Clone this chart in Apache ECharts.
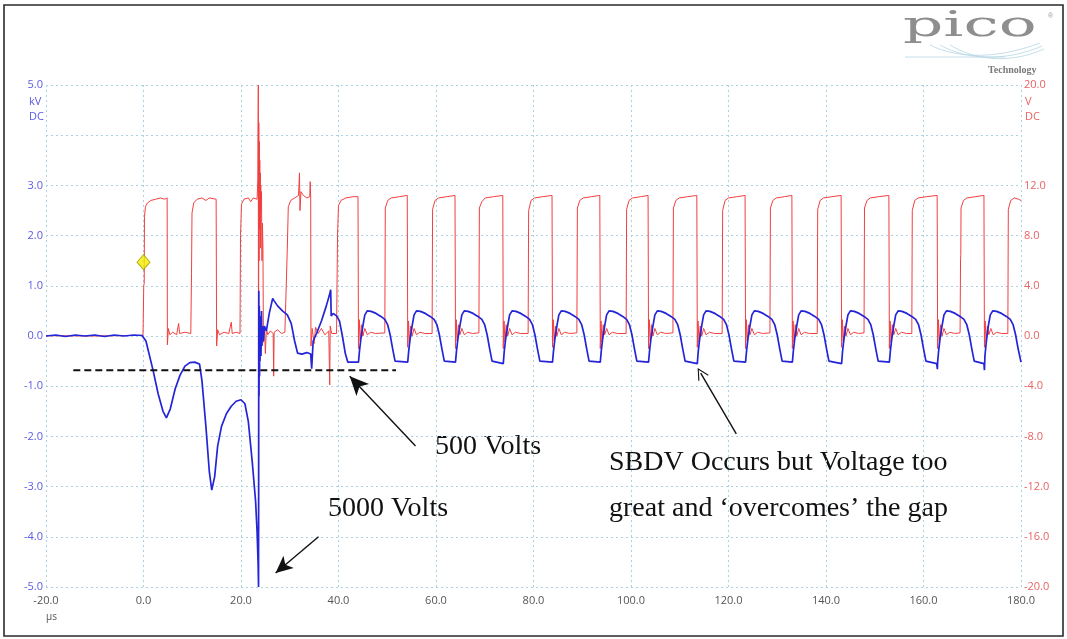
<!DOCTYPE html>
<html><head><meta charset="utf-8">
<script src="https://cdn.jsdelivr.net/npm/echarts/dist/echarts.min.js"></script>
<style>html,body{margin:0;padding:0;background:#fff}#c{width:1067px;height:639px}</style>
</head><body><div id="c"></div>
<script>
// ---- tick labels ----
const xTickLabels = ['-20.0','0.0','20.0','40.0','60.0','80.0','100.0','120.0','140.0','160.0','180.0'];
const kvTickLabels = ['-5.0','-4.0','-3.0','-2.0','-1.0','0.0','1.0','2.0','3.0','',"5.0"];
const vTickLabels = ['-20.0','-16.0','-12.0','-8.0','-4.0','0.0','4.0','8.0','12.0','','20.0'];

// ---- red channel (V, right axis) ----
const redTrace = [
 [-20,0.02],[-10,0.0],[-0.1,0.05],
 [0,0.1],[0.05,4.0],[0.15,4.2],[0.2,9.5],[0.4,10.3],[0.8,10.6],[1.5,10.8],[2.5,10.9],[3.5,11.0],[4.3,10.9],[4.85,11.0],
 [4.9,-0.7],[5.1,0.6],[5.4,0.1],[6.0,0.3],[6.8,0.1],[7.2,1.0],[7.4,0.2],[8.5,0.3],[9.7,0.2],
 [9.85,5.0],[9.95,9.8],[10.3,10.6],[11.0,10.9],[12.0,11.0],[12.8,10.8],[13.5,11.0],[14.9,10.9],
 [15.0,-0.8],[15.2,0.5],[15.6,0.1],[16.5,0.3],[17.5,0.2],[18.0,1.1],[18.2,0.2],[19.0,0.3],[19.8,0.2],
 [19.9,8.0],[20.1,10.5],[20.6,10.9],[21.5,11.0],[22.0,10.7],[22.5,11.0],[23.3,10.9],
 [23.45,12.5],[23.55,20],[23.6,-15.5],[23.65,17],[23.7,6],[23.75,15.5],[23.8,8.5],[23.85,14],[23.9,9],[23.95,13],[24.0,7],[24.05,12],[24.1,10],[24.2,11.5],[24.3,6],[24.4,9],[24.5,7],
 [24.6,-0.5],[24.8,0.8],[25.0,-1.4],[25.2,0.6],[25.5,0.1],[26.0,0.4],[26.6,0.2],[26.7,-3.2],[26.8,0.3],[27.5,0.5],[28.3,0.2],[29.0,0.3],[29.4,0.2],
 [29.5,7.0],[29.7,10.3],[30.2,10.8],[31.0,11.0],[31.8,11.2],[32.0,13.0],[32.1,10.0],[32.3,11.5],[32.8,11.2],[33.5,11.0],[34.1,11.1],[34.2,12.3],[34.3,11.0],
 [34.35,-0.8],[34.6,0.6],[35.0,-0.6],[35.3,0.7],[35.8,0.2],[36.5,0.6],[37.2,0.1],[38.0,0.4],[38.2,-3.9],[38.3,0.8],[38.6,0.2],[39.6,0.2],
 [39.8,8.0],[40.0,10.4],[40.5,10.8],[41.5,11.0],[43.0,11.1],[44.0,11.1],
 [44.1,-1.0],[44.25,1.3],[44.45,-0.4],[44.7,0.9],[45.0,0.0],[45.4,0.6],[45.9,0.1],[46.6,0.3],[47.6,0.2],[49.5,0.25],
 [49.6,10.2],[50.1,10.8],[50.8,11.0],[52.5,11.1],[54.1,11.2],
 [54.2,-0.9],[54.35,1.2],[54.55,-0.5],[54.8,0.8],[55.1,0.0],[55.5,0.6],[56.0,0.1],[56.7,0.3],[57.7,0.2],[59.2,0.2],
 [59.3,10.1],[59.8,10.8],[60.5,11.0],[62.2,11.1],[63.9,11.2],
 [64.0,-1.0],[64.15,1.3],[64.35,-0.4],[64.6,0.9],[64.9,0.1],[65.3,0.6],[65.8,0.1],[66.5,0.3],[67.5,0.2],[68.8,0.25],
 [68.9,10.2],[69.4,10.7],[70.1,11.0],[71.8,11.1],[73.7,11.2],
 [73.8,-1.0],[73.95,1.2],[74.15,-0.5],[74.4,0.9],[74.7,0.0],[75.1,0.6],[75.6,0.1],[76.3,0.3],[77.3,0.2],[78.9,0.2],
 [79.0,10.0],[79.5,10.8],[80.2,11.0],[81.9,11.1],[83.8,11.2],
 [83.9,-0.9],[84.05,1.3],[84.25,-0.4],[84.5,0.8],[84.8,0.0],[85.2,0.6],[85.7,0.1],[86.4,0.3],[87.4,0.2],[88.9,0.25],
 [89.0,10.2],[89.5,10.8],[90.2,11.0],[91.9,11.1],[93.6,11.2],
 [93.7,-1.0],[93.85,1.2],[94.05,-0.5],[94.3,0.9],[94.6,0.1],[95.0,0.6],[95.5,0.1],[96.2,0.3],[97.2,0.2],[99.0,0.2],
 [99.1,10.1],[99.6,10.8],[100.3,11.0],[102.0,11.1],[103.5,11.2],
 [103.6,-1.0],[103.75,1.3],[103.95,-0.4],[104.2,0.9],[104.5,0.0],[104.9,0.6],[105.4,0.1],[106.1,0.3],[107.1,0.2],[108.6,0.25],
 [108.7,10.2],[109.2,10.8],[109.9,11.0],[111.6,11.1],[113.5,11.2],
 [113.6,-0.9],[113.75,1.2],[113.95,-0.5],[114.2,0.8],[114.5,0.0],[114.9,0.6],[115.4,0.1],[116.1,0.3],[117.1,0.2],[118.7,0.2],
 [118.8,10.0],[119.3,10.8],[120.0,11.0],[121.7,11.1],[123.4,11.2],
 [123.5,-1.0],[123.65,1.3],[123.85,-0.4],[124.1,0.9],[124.4,0.1],[124.8,0.6],[125.3,0.1],[126.0,0.3],[127.0,0.2],[128.5,0.25],
 [128.6,10.2],[129.1,10.8],[129.8,11.0],[131.5,11.1],[133.0,11.2],
 [133.1,-1.0],[133.25,1.2],[133.45,-0.5],[133.7,0.9],[134.0,0.0],[134.4,0.6],[134.9,0.1],[135.6,0.3],[136.6,0.2],[138.2,0.2],
 [138.3,10.1],[138.8,10.8],[139.5,11.0],[141.2,11.1],[143.1,11.2],
 [143.2,-0.9],[143.35,1.3],[143.55,-0.4],[143.8,0.8],[144.1,0.0],[144.5,0.6],[145.0,0.1],[145.7,0.3],[146.7,0.2],[147.8,0.25],
 [147.9,10.2],[148.4,10.8],[149.1,11.0],[150.8,11.1],[152.9,11.2],
 [153.0,-1.0],[153.15,1.2],[153.35,-0.5],[153.6,0.9],[153.9,0.1],[154.3,0.6],[154.8,0.1],[155.5,0.3],[156.5,0.2],[157.6,0.2],
 [157.7,10.0],[158.2,10.8],[158.9,11.0],[160.6,11.1],[162.8,11.2],
 [162.9,-1.0],[163.05,1.3],[163.25,-0.4],[163.5,0.9],[163.8,0.0],[164.2,0.6],[164.7,0.1],[165.4,0.3],[166.4,0.2],[167.5,0.25],
 [167.6,6.2],[167.65,6.4],[167.7,10.2],[168.2,10.8],[168.9,11.0],[170.6,11.1],[172.4,11.2],
 [172.5,-0.9],[172.65,1.2],[172.85,-0.5],[173.1,0.8],[173.4,0.1],[173.8,0.6],[174.3,0.1],[175.0,0.3],[176.0,0.2],[177.3,0.2],
 [177.4,10.1],[177.9,10.8],[178.6,11.0],[179.5,10.9],[180,10.8]
];

// ---- blue channel (kV, left axis) ----
const blueTrace = [
 [-20,0.0],[-18,0.02],[-16,-0.01],[-14,0.02],[-12,0.0],[-10,0.02],[-8,-0.01],[-6,0.02],[-4,0.0],[-2,0.02],[-0.3,0.01],
 [0,0.0],[0.5,-0.1],[1.0,-0.3],[2.0,-0.7],[3.0,-1.15],[4.0,-1.5],[4.7,-1.63],[5.5,-1.45],[6.5,-1.05],[7.5,-0.78],[8.5,-0.6],[9.5,-0.53],[10.5,-0.52],[11.5,-0.56],
 [12.0,-0.9],[12.8,-1.8],[13.5,-2.7],[14.0,-3.07],[14.6,-2.8],[15.2,-2.2],[16.0,-1.8],[17.0,-1.55],[18.0,-1.4],[19.0,-1.3],[20.0,-1.27],[20.8,-1.35],[21.5,-1.7],[22.3,-2.5],[23.0,-3.3],[23.3,-3.9],[23.5,-4.5],
 [23.6,-5.0],[23.65,0.9],[23.7,-1.2],[23.75,0.6],[23.8,-0.8],[23.85,0.4],[23.9,-0.5],[24.0,0.3],[24.1,-0.4],[24.2,0.5],[24.3,-0.2],[24.4,0.2],[24.6,-0.1],[24.8,0.2],[25.2,0.1],
 [25.8,0.45],[26.5,0.75],[26.8,0.7],[27.5,0.6],[28.5,0.5],[29.5,0.42],[30.3,0.25],[31.0,-0.1],[31.6,-0.34],[32.5,-0.36],[33.5,-0.33],[34.3,-0.36],[34.5,-0.65],
 [34.8,-0.1],[35.5,0.05],[36.5,0.3],[37.5,0.6],[38.1,0.8],[38.4,0.92],[38.5,0.4],[38.9,0.45],[39.6,0.4],[40.2,0.3],[40.8,0.0],[41.4,-0.35],[41.9,-0.52],
 [44.1,-0.52],[44.3,-0.3],[44.6,-0.05],[45.0,0.2],[45.4,0.42],[45.9,0.5],[46.7,0.49],[47.7,0.45],[48.7,0.39],[49.5,0.33],[50.1,0.22],[50.6,0.02],[51.1,-0.25],[51.6,-0.5],[51.8,-0.52],
 [54.2,-0.52],[54.4,-0.3],[54.7,-0.05],[55.1,0.2],[55.5,0.42],[56.0,0.5],[56.8,0.49],[57.8,0.45],[58.8,0.39],[59.6,0.33],[60.2,0.22],[60.7,0.02],[61.2,-0.25],[61.7,-0.5],[61.9,-0.52],
 [64.0,-0.52],[64.2,-0.3],[64.5,-0.05],[64.9,0.2],[65.3,0.42],[65.8,0.5],[66.6,0.49],[67.6,0.45],[68.6,0.39],[69.4,0.33],[70.0,0.22],[70.5,0.02],[71.0,-0.25],[71.5,-0.5],[71.7,-0.52],
 [73.8,-0.55],[74.0,-0.3],[74.3,-0.05],[74.7,0.2],[75.1,0.42],[75.6,0.5],[76.4,0.49],[77.4,0.45],[78.4,0.39],[79.2,0.33],[79.8,0.22],[80.3,0.02],[80.8,-0.25],[81.3,-0.5],[81.5,-0.52],
 [83.9,-0.52],[84.1,-0.3],[84.4,-0.05],[84.8,0.2],[85.2,0.42],[85.7,0.5],[86.5,0.49],[87.5,0.45],[88.5,0.39],[89.3,0.33],[89.9,0.22],[90.4,0.02],[90.9,-0.25],[91.4,-0.5],[91.6,-0.52],
 [93.7,-0.52],[93.9,-0.3],[94.2,-0.05],[94.6,0.2],[95.0,0.42],[95.5,0.5],[96.3,0.49],[97.3,0.45],[98.3,0.39],[99.1,0.33],[99.7,0.22],[100.2,0.02],[100.7,-0.25],[101.2,-0.5],[101.4,-0.52],
 [103.6,-0.52],[103.8,-0.3],[104.1,-0.05],[104.5,0.2],[104.9,0.42],[105.4,0.5],[106.2,0.49],[107.2,0.45],[108.2,0.39],[109.0,0.33],[109.6,0.22],[110.1,0.02],[110.6,-0.25],[111.1,-0.5],[111.3,-0.52],
 [113.6,-0.55],[113.8,-0.3],[114.1,-0.05],[114.5,0.2],[114.9,0.42],[115.4,0.5],[116.2,0.49],[117.2,0.45],[118.2,0.39],[119.0,0.33],[119.6,0.22],[120.1,0.02],[120.6,-0.25],[121.1,-0.5],[121.3,-0.52],
 [123.5,-0.52],[123.7,-0.3],[124.0,-0.05],[124.4,0.2],[124.8,0.42],[125.3,0.5],[126.1,0.49],[127.1,0.45],[128.1,0.39],[128.9,0.33],[129.5,0.22],[130.0,0.02],[130.5,-0.25],[131.0,-0.5],[131.2,-0.52],
 [133.1,-0.52],[133.3,-0.3],[133.6,-0.05],[134.0,0.2],[134.4,0.42],[134.9,0.5],[135.7,0.49],[136.7,0.45],[137.7,0.39],[138.5,0.33],[139.1,0.22],[139.6,0.02],[140.1,-0.25],[140.6,-0.5],[140.8,-0.52],
 [143.2,-0.55],[143.4,-0.3],[143.7,-0.05],[144.1,0.2],[144.5,0.42],[145.0,0.5],[145.8,0.49],[146.8,0.45],[147.8,0.39],[148.6,0.33],[149.2,0.22],[149.7,0.02],[150.2,-0.25],[150.7,-0.5],[150.9,-0.52],
 [153.0,-0.52],[153.2,-0.3],[153.5,-0.05],[153.9,0.2],[154.3,0.42],[154.8,0.5],[155.6,0.49],[156.6,0.45],[157.6,0.39],[158.4,0.33],[159.0,0.22],[159.5,0.02],[160.0,-0.25],[160.5,-0.5],[160.7,-0.52],[162.7,-0.55],
 [162.85,-0.66],[162.9,-0.52],[163.1,-0.3],[163.4,-0.05],[163.8,0.2],[164.2,0.42],[164.7,0.5],[165.5,0.49],[166.5,0.45],[167.5,0.39],[168.3,0.33],[168.9,0.22],[169.4,0.02],[169.9,-0.25],[170.4,-0.5],[170.6,-0.52],[172.4,-0.55],
 [172.5,-0.68],[172.6,-0.4],[172.9,-0.1],[173.3,0.2],[173.7,0.42],[174.2,0.5],[175.0,0.49],[176.0,0.45],[177.0,0.39],[177.8,0.33],[178.4,0.22],[178.9,0.02],[179.4,-0.25],[180.0,-0.52]
];

// ---- annotations (data coords: µs, kV) ----
const dashedLevel = [[-14.4,-0.68],[51.8,-0.68]];
const triggerPoint = [[0,1.47]];
const arrow500 = [[55.8,-2.19],[42.3,-0.80]];
const arrow5000 = [[35.9,-4.0],[27.1,-4.72]];
const arrowSBDV = [[121.6,-1.95],[114.3,-0.74]];

const gridColor = '#a9d3e2';
const chart = echarts.init(document.getElementById('c'), null, {renderer:'canvas'});
const serif = '"Liberation Serif","Times New Roman",serif';
const openArrow = 'path://M0,0 L-6,11 L-5,11.6 L0,2.2 L5,11.6 L6,11 Z';

chart.setOption({
  animation:false,
  backgroundColor:'#ffffff',
  grid:{left:46,right:46,top:85,bottom:52,show:false},
  xAxis:{type:'value',min:-20,max:180,interval:20,
    axisLine:{show:false},axisTick:{show:false},
    axisLabel:{margin:8,color:'#555',fontSize:11,fontFamily:'"Open Sans",sans-serif',
      formatter:(v)=>xTickLabels[Math.round((v+20)/20)]},
    splitLine:{show:true,lineStyle:{color:gridColor,width:1,type:[2,3]}}},
  yAxis:[
    {type:'value',min:-5,max:5,interval:1,position:'left',
      axisLine:{show:false},axisTick:{show:false},
      axisLabel:{margin:3,color:'#5b5be0',fontSize:11,fontFamily:'"Open Sans",sans-serif',
        formatter:(v)=>kvTickLabels[Math.round(v+5)]},
      splitLine:{show:true,lineStyle:{color:gridColor,width:1,type:[2,3]}}},
    {type:'value',min:-20,max:20,interval:4,position:'right',
      axisLine:{show:false},axisTick:{show:false},
      axisLabel:{margin:3,color:'#e56464',fontSize:11,fontFamily:'"Open Sans",sans-serif',
        formatter:(v)=>vTickLabels[Math.round((v+20)/4)]},
      splitLine:{show:false}}
  ],
  series:[
    {name:'red',type:'line',yAxisIndex:1,data:redTrace,showSymbol:false,symbol:'none',
     lineStyle:{color:'#f04040',width:1},z:2},
    {name:'blue',type:'line',yAxisIndex:0,data:blueTrace,showSymbol:false,symbol:'none',
     lineStyle:{color:'#2424d8',width:1.7},z:3},
    {name:'dash',type:'line',yAxisIndex:0,data:dashedLevel,showSymbol:false,symbol:'none',
     lineStyle:{color:'#111',width:2,type:[7,4]},z:4,
     markLine:{silent:true,animation:false,label:{show:false},
       lineStyle:{color:'#111',width:1.4,type:'solid'},
       data:[
         [{coord:arrow500[0],symbol:'none'},{coord:arrow500[1],symbol:'arrow',symbolSize:[13,19]}],
         [{coord:arrow5000[0],symbol:'none'},{coord:arrow5000[1],symbol:'arrow',symbolSize:[12,17]}],
         [{coord:arrowSBDV[0],symbol:'none'},{coord:arrowSBDV[1],symbol:openArrow,symbolSize:[12,12]}]
       ]}},
    {name:'trigger',type:'scatter',yAxisIndex:0,data:triggerPoint,symbol:'diamond',symbolSize:[13,15],
     itemStyle:{color:'#f4ee00',borderColor:'#a4a000',borderWidth:1},z:5}
  ],
  graphic:[
    {type:'rect',shape:{x:4,y:5,width:1059,height:631},style:{fill:'none',stroke:'#2a2a2a',lineWidth:1.6},z:100},
    {type:'text',style:{x:29,y:102,text:'kV',fill:'#5b5be0',font:'11px "Open Sans",sans-serif',verticalAlign:'middle'}},
    {type:'text',style:{x:29,y:117,text:'DC',fill:'#5b5be0',font:'11px "Open Sans",sans-serif',verticalAlign:'middle'}},
    {type:'text',style:{x:1025,y:102,text:'V',fill:'#e56464',font:'11px "Open Sans",sans-serif',verticalAlign:'middle'}},
    {type:'text',style:{x:1025,y:117,text:'DC',fill:'#e56464',font:'11px "Open Sans",sans-serif',verticalAlign:'middle'}},
    {type:'text',style:{x:46,y:617,text:'µs',fill:'#555',font:'10px "Open Sans",sans-serif',verticalAlign:'middle'}},
    {type:'text',style:{x:435,y:447,text:'500 Volts',fill:'#111',font:'28px '+serif,verticalAlign:'middle'}},
    {type:'text',style:{x:328,y:509,text:'5000 Volts',fill:'#111',font:'28px '+serif,verticalAlign:'middle'}},
    {type:'text',style:{x:609,y:463,text:'SBDV Occurs but Voltage too',fill:'#111',font:'28px '+serif,verticalAlign:'middle'}},
    {type:'text',style:{x:609,y:509,text:'great and \u2018overcomes\u2019 the gap',fill:'#111',font:'28px '+serif,verticalAlign:'middle'}},
    // pico logo
    {type:'text',x:903,y:27,scaleX:1.75,scaleY:1,style:{x:0,y:0,text:'pico',fill:'#8e8e8e',font:'36px "DejaVu Serif",serif',verticalAlign:'middle'}},
    {type:'text',style:{x:1048,y:16,text:'®',fill:'#999',font:'7px sans-serif',verticalAlign:'middle'}},
    {type:'text',style:{x:988,y:70,text:'Technology',fill:'#7a7a7a',font:'bold 10px '+serif,verticalAlign:'middle'}},
    {type:'line',shape:{x1:905,y1:57,x2:1005,y2:57},style:{stroke:'#b5d5e5',lineWidth:0.8}},
    {type:'bezierCurve',shape:{x1:930,y1:45,x2:1040,y2:43,cpx1:960,cpy1:60,cpx2:1000,cpy2:58},style:{stroke:'#b5d5e5',lineWidth:0.8,fill:'none'}},
    {type:'bezierCurve',shape:{x1:940,y1:45,x2:1042,y2:46,cpx1:970,cpy1:62,cpx2:1010,cpy2:60},style:{stroke:'#b5d5e5',lineWidth:0.8,fill:'none'}},
    {type:'bezierCurve',shape:{x1:950,y1:45,x2:1044,y2:49,cpx1:980,cpy1:63,cpx2:1015,cpy2:62},style:{stroke:'#b5d5e5',lineWidth:0.8,fill:'none'}}
  ]
});
</script></body></html>
